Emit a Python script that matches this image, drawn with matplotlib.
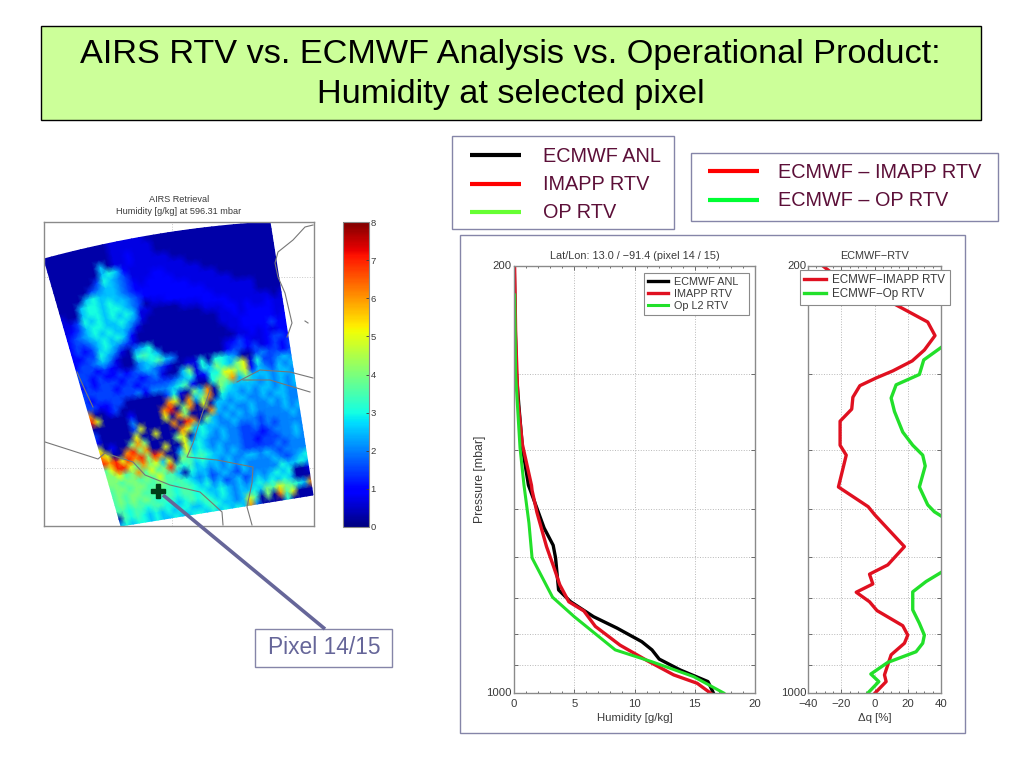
import numpy as np
import matplotlib
matplotlib.use("Agg")
import matplotlib.pyplot as plt
from matplotlib.patches import Rectangle
from matplotlib.ticker import FixedLocator, MultipleLocator, NullFormatter

plt.rcParams['font.family'] = ['Liberation Sans', 'DejaVu Sans']

# ---- profile data ----
ecmwf_q = [0.02, 0.1, 0.2, 0.4, 0.7, 1.2, 1.65, 2.5, 3.25, 3.45, 3.7, 4.7, 6.6, 8.55, 10.6, 11.45, 12.05, 13.8, 16.1, 16.55]
ecmwf_p = [200, 250, 300, 338, 397, 457, 483, 537, 573, 601, 678, 709, 750, 783, 824, 850, 880, 917, 958, 1000]
imapp_q = [0.05, 0.14, 0.33, 0.7, 1.45, 1.5, 1.9, 2.7, 3.3, 3.8, 4.55, 5.8, 6.75, 8.8, 11.0, 13.25, 15.2, 16.3]
imapp_p = [200, 260, 333, 392, 457, 466, 506, 576, 622, 665, 709, 734, 778, 835, 884, 934, 964, 1000]
op_q = [0.05, 0.14, 0.5, 0.83, 1.24, 1.5, 3.2, 5.0, 8.4, 11.45, 14.9, 17.4]
op_p = [223, 303, 397, 457, 527, 601, 697, 750, 850, 889, 940, 1000]

diff_imapp = [-31, -25, 7, 32, 36.4, 30, 22.7, 11, 1, -8.8, -13, -13.7, -20.7, -20.7, -17, -21.7, -3.8, 0.2, 18, 8, -3, -1, -11, -3, 1.5, 17, 20, 18, 10, 6, 7, 0.5]
diff_imapp_p = [200, 206, 227, 247, 260, 274.5, 286, 297, 305, 314, 328, 343, 359, 393, 408, 460, 495.5, 511, 576, 617, 639, 663, 684, 709, 733, 776, 804, 829, 866, 934, 958, 999]
diff_op = [40, 29.6, 27, 13, 10, 12, 17, 23, 29, 30.5, 27, 32, 36, 40, np.nan, 40, 31, 23, 23, 27, 30, 29, 25, 8, -2.2, 2.6, -3.8]
diff_op_p = [272, 285, 301, 313, 329, 346, 374, 393, 408, 425, 460, 492, 505, 513, 570, 635, 657, 683, 731, 769, 804, 829, 856, 891, 931, 958, 999]

pressure_ticks = [200, 300, 400, 500, 600, 700, 800, 900, 1000]

# ---- retrieved humidity swath, read by eye on a coarse grid (g/kg codes) ----
code_values = {'n': 0.3, 'a': 0.7, '1': 1.0, 'b': 1.5, '2': 2.0, 'c': 2.5, '3': 3.0, 'd': 3.5,
               '4': 4.0, '5': 5.0, '6': 6.0, '7': 7.0, '8': 7.8}
swath_rows = [
    "nnnnnnnnnaaaaannnnnnnnnnnnnnnnnn",
    "nnnnnnnnnaaaaaannnnnnnnnnnnnnnnn",
    "nnnnnnnnnaa1aaannnnnnnnnnnnnnnnn",
    "nnnnnnncnaa1aaaaannnnnnnnnnnnnnn",
    "nnnnnnnc3c1aaaaaaaannnnnnnnnnnnn",
    "nnnnnnb3c2baaa11aaaaannnnnnnnnnn",
    "nnnnnb2cc2b1a1111aaaaaannnnnnnnn",
    "nnnnc3ccc2b11111111aaaaaannnnnnn",
    "nnnc33c3cc2b111111111aaaaaaannnn",
    "annc33c33c2bnaa1111111aaaaaannnn",
    "aab3c3c3c3caannnnaaa1111aaaaaana",
    "a1bc33cc3c2annnnnnnnaaa11a1aa1aa",
    "1b2c3c3cc2annnnnnnnnnnaa1a1111aa",
    "1bb2c3c3c1nnnnnnnnnnnnaaa11111a1",
    "1b1bc3c2bannnnnnnnnnnnnaa1111b11",
    "11bb3c2an2c3nnnnnnnnnnnnaa1a1a11",
    "1bb2c2ann3d3cnnnnnnnnna1b1aa1bb1",
    "bbb1b1ann2c3dc2nnnnnnn1bb1ba1b1b",
    "bb1b11b1b2c2bannaa3n33c2nnb2bb1b",
    "1b1bbb1bb1b2annc4a3c43c45a3bb2c2",
    "bbbbb1bb1bbbbb2c3a13355451c2bc2c",
    "b1bbbbbb21222c3d1nn3446c4ccc2cc2",
    "bb11bbnnnnnnb3an4c6n43cccc2c2c2c",
    "6nn1bnnnnnnn65n6c46n3cc2c2cc2c2c",
    "75nnnn1nnnn67n46n5ncc2cc22c2cc22",
    "nnnnnn2nnnn5n64nnn6c2c22c22c2c22",
    "bnnnnnb5nnnn6n76n4c2c2c2c2222c2c",
    "1nnnnn5nn5nnn65c3cc22c222b2222c2",
    "5n1nn464nnnn45nc3c2c22bb2b2b2222",
    "65nn6746nn5nn5c3c22c22bbb1b222c2",
    "7675767476nnc5c3c2c222bb1bbb22c2",
    "d5775d645c5n4d3d3cc2c2bbbbb2b222",
    "445d46d5d47d3dc3cc2c22cc2c2b2222",
    "44d44d4d5ddcn3cc2c2c2c2222c2b2c3",
    "d44d44dd4ddd3c2cb2c2bc222223cc3c",
    "d4d44dd4dd3dd3c32cb2cb2c2c3c3nna",
    "d4d4d4d3dd3dd33cc3c2c2c3c3c3cnnn",
    "dd3dd3dd33c3d3d3c3c2cc3c4d54d3c6",
    "nd3d3c3c3c33cc3d3cc2c5dn4n6d5nnn",
    "c3c33c3cc3cc33c3c3c3c62nnnn3nnnn",
]

# map furniture, in the map panel's own coordinates
coast_segments = [
    ([313, 305, 293, 278, 275, 278, 285, 292, 287], [225, 227, 240, 252, 263, 277, 293, 323, 337]),
    ([45, 70, 98, 105, 133, 145, 170, 200, 222, 223], [442, 450, 459, 453, 462, 475, 485, 492, 512, 525]),
    ([77, 85, 93], [372, 390, 407]),
    ([210, 200, 193, 187, 217, 253, 252, 247, 252], [390, 420, 443, 457, 460, 467, 483, 507, 525]),
    ([237, 260, 290, 313], [382, 370, 372, 378]),
    ([243, 270, 310], [380, 380, 392]),
    ([305, 308], [321, 323]),
]
pixel_marker = (158, 491)

GREY = '#8a8a8a'
TXT = '#3a3a3a'
W, H = 1024, 768
fig = plt.figure(figsize=(W / 100, H / 100), dpi=100, facecolor='white')


def add_ax(x0, y0, x1, y1, **kw):
    return fig.add_axes([x0 / W, 1 - y1 / H, (x1 - x0) / W, (y1 - y0) / H], **kw)


# background layer with slide furniture
bg = add_ax(0, 0, W, H, zorder=-1)
bg.set_xlim(0, W); bg.set_ylim(H, 0); bg.axis('off')
bg.add_patch(Rectangle((41, 26), 940, 94, fc='#ccff99', ec='black', lw=1))
bg.text(510, 54, 'AIRS RTV vs. ECMWF Analysis vs. Operational Product:', ha='center', va='center', fontsize=24.65, color='black')
bg.text(511, 94, 'Humidity at selected pixel', ha='center', va='center', fontsize=24.65, color='black')
BOX = '#8585a8'
MAROON = '#5c0f38'
bg.add_patch(Rectangle((452, 136), 222, 93, fc='white', ec=BOX, lw=1))
bg.add_patch(Rectangle((691, 153), 307, 68, fc='white', ec=BOX, lw=1))
bg.add_patch(Rectangle((460, 235), 505, 498, fc='white', ec=BOX, lw=1))
for yy, col, lab in [(155, 'black', 'ECMWF ANL'), (184, 'red', 'IMAPP RTV'), (212, '#66ff33', 'OP RTV')]:
    bg.plot([470, 521], [yy, yy], color=col, lw=3, solid_capstyle='butt')
    bg.text(543, yy + 1, lab, va='center', ha='left', fontsize=14.3, color=MAROON)
for yy, col, lab in [(171, 'red', 'ECMWF \u2013 IMAPP RTV'), (200, '#00ff33', 'ECMWF \u2013 OP RTV')]:
    bg.plot([708, 759], [yy, yy], color=col, lw=3, solid_capstyle='butt')
    bg.text(778, yy + 1, lab, va='center', ha='left', fontsize=14.3, color=MAROON)
bg.add_patch(Rectangle((255, 629), 137, 38, fc='white', ec=BOX, lw=1))
bg.text(324, 648, 'Pixel 14/15', ha='center', va='center', fontsize=16.4, color='#666699')
bg.text(179, 200, 'AIRS Retrieval', ha='center', va='center', fontsize=6.6, color=TXT)
bg.text(179, 211, 'Humidity [g/kg] at 596.31 mbar', ha='center', va='center', fontsize=6.6, color=TXT)

# swath map
mp = add_ax(44, 222, 314, 526)
mp.set_xlim(44, 314); mp.set_ylim(526, 222)
mp.set_xticks([]); mp.set_yticks([])
for s in mp.spines.values():
    s.set_color(GREY); s.set_linewidth(1)
grid = np.array([[code_values[c] for c in row.ljust(32, row[-1])[:32]] for row in swath_rows])
ny, nx = grid.shape
u, v = np.meshgrid(np.linspace(0, 1, nx), np.linspace(0, 1, ny))
top_x, top_y = 44 + 226 * u, 259 - 37 * u - 6 * 4 * u * (1 - u) * (1 - v)
bot_x, bot_y = 121 + 192 * u, 526 - 31 * u
mx = top_x + (bot_x - top_x) * v
my = top_y + (bot_y - top_y) * v
mp.axhline(277, color='#c8c8c8', lw=0.7, ls=':', zorder=0)
mp.axhline(468, color='#c8c8c8', lw=0.7, ls=':', zorder=0)
mp.axvline(172, color='#c8c8c8', lw=0.7, ls=':', zorder=0)
mesh = mp.pcolormesh(mx, my, grid, cmap='jet', vmin=0, vmax=8, shading='gouraud', zorder=1)
for xs, ys in coast_segments:
    mp.plot(xs, ys, color='#777777', lw=0.8, zorder=2)
mp.plot(*pixel_marker, marker='P', ms=10, color='#003d18', mec='#003d18', zorder=3)

# colour bar
cax = add_ax(343, 222, 369, 527)
cb = fig.colorbar(mesh, cax=cax)
cb.set_ticks(range(0, 9))
cb.ax.tick_params(labelsize=6.8, length=2, width=0.6, pad=1, colors=TXT, direction='in')
cb.outline.set_edgecolor(GREY)


def style_profile(ax):
    ax.set_yscale('log')
    ax.set_ylim(1000, 200)
    ax.yaxis.set_major_locator(FixedLocator(pressure_ticks))
    ax.yaxis.set_minor_locator(FixedLocator([]))
    ax.yaxis.set_major_formatter(NullFormatter())
    ax.yaxis.set_minor_formatter(NullFormatter())
    ax.grid(True, which='major', color='#b8b8b8', lw=0.7, ls=':')
    ax.set_axisbelow(True)
    ax.tick_params(which='both', direction='in', top=True, right=True, colors='#555555',
                   labelcolor=TXT, labelsize=8.2, pad=4.5, length=3, width=0.6)
    ax.tick_params(which='minor', length=1.5)
    for s in ax.spines.values():
        s.set_color(GREY); s.set_linewidth(1)
    ax.text(-0.012, 1.0, '200', transform=ax.transAxes, ha='right', va='center', fontsize=8.2, color=TXT)
    ax.text(-0.012, 0.0, '1000', transform=ax.transAxes, ha='right', va='center', fontsize=8.2, color=TXT)


LEG = dict(loc='upper left', bbox_transform=fig.transFigure, mode='expand', frameon=True, fancybox=False,
           edgecolor=GREY, framealpha=1, borderpad=0.35, labelspacing=0.2, handlelength=1.85,
           handletextpad=0.55, borderaxespad=0)

# humidity profile panel
a1 = add_ax(514, 266, 755, 693)
style_profile(a1)
a1.set_xlim(0, 20)
a1.xaxis.set_major_locator(MultipleLocator(5))
a1.xaxis.set_minor_locator(MultipleLocator(1))
a1.plot(ecmwf_q, ecmwf_p, color='black', lw=2.4, label='ECMWF ANL')
a1.plot(imapp_q, imapp_p, color='#e01020', lw=2.4, label='IMAPP RTV')
a1.plot(op_q, op_p, color='#22e02a', lw=2.2, label='Op L2 RTV')
a1.set_title('Lat/Lon: 13.0 / \u221291.4 (pixel 14 / 15)', fontsize=7.8, color=TXT, pad=5)
a1.set_xlabel('Humidity [g/kg]', fontsize=8.2, color=TXT, labelpad=2.5)
a1.set_ylabel('Pressure [mbar]', fontsize=8.8, color=TXT, labelpad=16)
lg = a1.legend(bbox_to_anchor=(644 / W, 1 - 273 / H, 105 / W, 0), fontsize=7.8, **LEG)
lg.get_frame().set_linewidth(0.8)
for t in lg.get_texts():
    t.set_color(TXT)

# difference panel
a2 = add_ax(808, 266, 941, 693)
style_profile(a2)
a2.set_xlim(-40, 40)
a2.xaxis.set_major_locator(MultipleLocator(20))
a2.xaxis.set_minor_locator(MultipleLocator(5))
a2.xaxis.set_major_formatter(lambda val, pos: f'{val:.0f}'.replace('-', '\u2212'))
a2.plot(diff_imapp, diff_imapp_p, color='#e01020', lw=2.4, label='ECMWF\u2212IMAPP RTV')
a2.plot(diff_op, diff_op_p, color='#22e02a', lw=2.4, label='ECMWF\u2212Op RTV')
a2.set_title('ECMWF\u2212RTV', fontsize=7.8, color=TXT, pad=5)
a2.set_xlabel('\u0394q [%]', fontsize=8.2, color=TXT, labelpad=2.5)
lg2 = a2.legend(bbox_to_anchor=(800 / W, 1 - 270 / H, 150 / W, 0), fontsize=8.4, **LEG)
lg2.get_frame().set_linewidth(0.8)
for t in lg2.get_texts():
    t.set_color(TXT)

# callout line from the pixel to its label
ov = add_ax(0, 0, W, H, zorder=10)
ov.set_xlim(0, W); ov.set_ylim(H, 0); ov.axis('off')
ov.patch.set_alpha(0)
ov.plot([163, 325], [495, 629], color='#666699', lw=2.6, solid_capstyle='butt')

fig.savefig('out.png', dpi=100)
